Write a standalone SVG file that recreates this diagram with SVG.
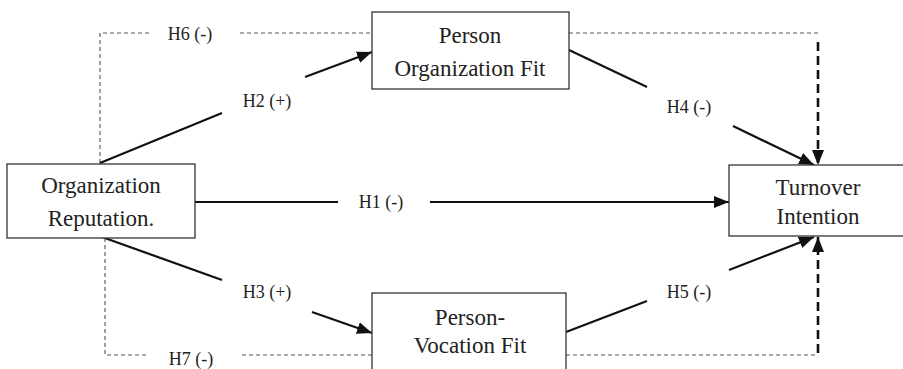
<svg xmlns="http://www.w3.org/2000/svg" width="903" height="369" viewBox="0 0 903 369">
<style>
.box{fill:#fff;stroke:#333;stroke-width:1.3}
.nt{font-family:'Liberation Serif','Times New Roman',Times,'DejaVu Serif',serif;font-size:23px;fill:#222;text-anchor:middle}
.lb{font-family:'Liberation Serif','Times New Roman',Times,'DejaVu Serif',serif;font-size:18px;fill:#222;text-anchor:middle}
.sol{stroke:#111;stroke-width:2.2;fill:none}
.thin{stroke:#555;stroke-width:1.1;stroke-dasharray:4 3;fill:none}
.thick{stroke:#111;stroke-width:2.6;stroke-dasharray:9 5;fill:none}
</style>
<defs>
<marker id="ah" markerUnits="userSpaceOnUse" markerWidth="16" markerHeight="12" refX="15" refY="6" orient="auto">
<path d="M0,0 L15,6 L0,12 z" fill="#111"/>
</marker>
</defs>
<g id="connectors">
<polyline class="thin" points="100,163 100,33 149,33"/>
<line class="thin" x1="240" y1="33" x2="372" y2="33"/>
<line class="thin" x1="569" y1="33" x2="818" y2="33"/>
<line class="thick" x1="818" y1="42" x2="818" y2="165" marker-end="url(#ah)"/>
<text class="lb" x="190" y="40" font-family="Liberation Serif, serif">H6 (-)</text>
<line class="sol" x1="100" y1="163" x2="222" y2="113"/>
<line class="sol" x1="305" y1="77" x2="372" y2="52" marker-end="url(#ah)"/>
<text class="lb" x="267" y="107" font-family="Liberation Serif, serif">H2 (+)</text>
<line class="sol" x1="569" y1="50" x2="647" y2="87"/>
<line class="sol" x1="733" y1="126" x2="814" y2="165" marker-end="url(#ah)"/>
<text class="lb" x="689" y="113" font-family="Liberation Serif, serif">H4 (-)</text>
<line class="sol" x1="195" y1="202" x2="338" y2="202"/>
<line class="sol" x1="430" y1="202" x2="729" y2="202" marker-end="url(#ah)"/>
<text class="lb" x="381" y="208" font-family="Liberation Serif, serif">H1 (-)</text>
<line class="sol" x1="102" y1="237" x2="222" y2="280"/>
<line class="sol" x1="312" y1="312" x2="372" y2="333" marker-end="url(#ah)"/>
<text class="lb" x="267" y="298" font-family="Liberation Serif, serif">H3 (+)</text>
<line class="sol" x1="566" y1="332" x2="647" y2="301"/>
<line class="sol" x1="729" y1="270" x2="814" y2="237" marker-end="url(#ah)"/>
<text class="lb" x="689" y="298" font-family="Liberation Serif, serif">H5 (-)</text>
<polyline class="thin" points="105,238 105,355 149,355"/>
<line class="thin" x1="242" y1="355" x2="372" y2="355"/>
<line class="thin" x1="566" y1="355" x2="818" y2="355"/>
<line class="thick" x1="818" y1="353" x2="818" y2="237" marker-end="url(#ah)"/>
<text class="lb" x="191" y="365" font-family="Liberation Serif, serif">H7 (-)</text>
</g>
<g id="org-reputation">
<rect class="box" x="7" y="164" width="188" height="74"/>
<text class="nt" x="101" y="193" font-family="Liberation Serif, serif">Organization</text>
<text class="nt" x="101" y="226" font-family="Liberation Serif, serif">Reputation.</text>
</g>
<g id="person-organization-fit">
<rect class="box" x="372" y="12" width="197" height="77"/>
<text class="nt" x="470" y="43" font-family="Liberation Serif, serif">Person</text>
<text class="nt" x="470" y="76" font-family="Liberation Serif, serif">Organization Fit</text>
</g>
<g id="turnover-intention">
<rect class="box" x="729" y="165" width="190" height="71"/>
<text class="nt" x="818" y="195" font-family="Liberation Serif, serif">Turnover</text>
<text class="nt" x="818" y="224" font-family="Liberation Serif, serif">Intention</text>
</g>
<g id="person-vocation-fit">
<rect class="box" x="372" y="293" width="194" height="90"/>
<text class="nt" x="470" y="325" font-family="Liberation Serif, serif">Person-</text>
<text class="nt" x="470" y="353" font-family="Liberation Serif, serif">Vocation Fit</text>
</g>
</svg>
